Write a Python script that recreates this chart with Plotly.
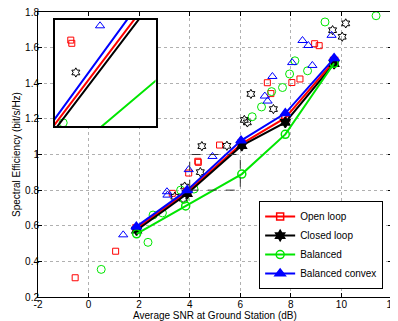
import plotly.graph_objects as go

# ---------------- data ----------------
series_names = ["Open loop", "Closed loop", "Balanced", "Balanced convex"]

# averaged curves (vertices)
open_x = [1.90, 3.90, 6.05, 7.78, 9.71]
open_y = [0.585, 0.790, 1.060, 1.205, 1.525]
closed_x = [1.90, 3.90, 6.06, 7.78, 9.71]
closed_y = [0.575, 0.780, 1.050, 1.180, 1.510]
bal_x = [1.90, 3.84, 6.06, 7.78, 9.71]
bal_y = [0.555, 0.711, 0.890, 1.113, 1.512]
cvx_x = [1.89, 3.90, 6.03, 7.78, 9.71]
cvx_y = [0.595, 0.800, 1.078, 1.231, 1.540]

# individual realisations (scatter)
open_sx = [-0.53, 1.07, 3.31, 3.96, 4.32, 4.34, 5.18, 7.07, 7.21, 8.04, 8.36, 8.94, 9.12]
open_sy = [0.308, 0.457, 0.782, 0.896, 0.962, 0.956, 1.053, 1.403, 1.342, 1.404, 1.424, 1.622, 1.611]
closed_sx = [3.41, 3.74, 3.80, 4.42, 4.48, 5.47, 6.16, 6.28, 6.42, 7.31, 9.65, 10.03, 10.17]
closed_sy = [0.763, 0.752, 0.820, 0.901, 1.047, 1.049, 1.194, 1.180, 1.340, 1.255, 1.698, 1.661, 1.736]
bal_sx = [0.50, 2.35, 2.55, 2.92, 3.64, 3.78, 4.17, 6.47, 6.84, 7.24, 7.67, 7.95, 8.16, 8.66, 9.35, 11.37]
bal_sy = [0.355, 0.507, 0.660, 0.672, 0.800, 0.748, 0.806, 1.212, 1.267, 1.353, 1.376, 1.452, 1.526, 1.470, 1.744, 1.779]
cvx_sx = [1.37, 3.10, 3.12, 3.96, 4.90, 6.97, 7.08, 7.27, 8.05, 8.46, 8.69, 8.85, 9.61]
cvx_sy = [0.549, 0.791, 0.772, 0.915, 0.989, 1.328, 1.300, 1.438, 1.516, 1.640, 1.612, 1.500, 1.669]

# axes
x_range = [-2, 12]
y_range = [0.2, 1.8]
x_ticks = [-2, 0, 2, 4, 6, 8, 10, 12]
x_ticklabels = ["-2", "0", "2", "4", "6", "8", "10", "12"]
y_ticks = [0.2, 0.4, 0.6, 0.8, 1.0, 1.2, 1.4, 1.6, 1.8]
y_ticklabels = ["0.2", "0.4", "0.6", "0.8", "1", "1.2", "1.4", "1.6", "1.8"]
x_title = "Average SNR at Ground Station (dB)"
y_title = "Spectral Efficiency (bit/s/Hz)"

# zoomed region shown in the inset
zoom_x = [4, 6]
zoom_y = [0.8, 1.0]

# ---------------- styles ----------------
colors = ["#ff0000", "#000000", "#00e600", "#0000ff"]
line_sym = ["square-open", "hexagram", "circle-open", "triangle-up"]
scat_sym = ["square-open", "hexagram-open", "circle-open", "triangle-up-open"]
line_msize = [7, 8, 8, 9]
scat_msize = [6, 7, 8, 8]

curves = [(open_x, open_y), (closed_x, closed_y), (bal_x, bal_y), (cvx_x, cvx_y)]
scatters = [(open_sx, open_sy), (closed_sx, closed_sy), (bal_sx, bal_sy), (cvx_sx, cvx_sy)]


def inside_zoom(xs, ys):
    pts = [(a, b) for a, b in zip(xs, ys)
           if zoom_x[0] <= a <= zoom_x[1] and zoom_y[0] <= b <= zoom_y[1]]
    return [p[0] for p in pts], [p[1] for p in pts]


fig = go.Figure()
FONT = "Liberation Sans, Arial, Helvetica, sans-serif"

for axes in [("x", "y"), ("x2", "y2")]:
    for i in range(4):
        sx, sy = scatters[i]
        if axes[0] == "x2":
            sx, sy = inside_zoom(sx, sy)
        fig.add_trace(go.Scatter(
            x=sx, y=sy, mode="markers", showlegend=False, hoverinfo="skip",
            xaxis=axes[0], yaxis=axes[1],
            marker=dict(symbol=scat_sym[i], size=scat_msize[i], color=colors[i],
                        line=dict(color=colors[i], width=1)),
        ))
    for i in range(4):
        cx, cy = curves[i]
        fig.add_trace(go.Scatter(
            x=cx, y=cy, mode="lines+markers" if axes[0] == "x" else "lines",
            name=series_names[i],
            showlegend=(axes[0] == "x"), xaxis=axes[0], yaxis=axes[1],
            line=dict(color=colors[i], width=2),
            marker=dict(symbol=line_sym[i], size=line_msize[i], color=colors[i],
                        line=dict(color=colors[i], width=1.5)),
        ))

# dashed rectangle marking the zoomed area
fig.add_shape(type="rect", xref="x", yref="y",
              x0=zoom_x[0], x1=zoom_x[1], y0=zoom_y[0], y1=zoom_y[1],
              line=dict(color="#333333", width=1, dash="dash"), layer="above")

# x axis title (placed explicitly just under the tick labels)
fig.add_annotation(text=x_title, xref="paper", yref="paper", x=0.5, y=-0.066,
                   xanchor="center", yanchor="middle", showarrow=False,
                   font=dict(size=10, family=FONT, color="black"))

axis_common = dict(showline=True, linecolor="black", linewidth=1, mirror="allticks",
                   ticks="inside", ticklen=4, tickcolor="black", zeroline=False,
                   showgrid=True, gridcolor="#b0b0b0", griddash="dot", gridwidth=1,
                   automargin=False, ticklabeloverflow="allow",
                   tickfont=dict(size=10, color="black", family=FONT))

# page body has an 8px margin -> figure is 8px smaller and shifted
fig.update_layout(
    width=390, height=313,
    margin=dict(l=30, r=6, t=4, b=24, autoexpand=False),
    paper_bgcolor="white", plot_bgcolor="white",
    font=dict(family=FONT, size=10, color="black"),
    xaxis=dict(range=x_range, tickvals=x_ticks, ticktext=x_ticklabels,
               ticklabelstandoff=-2, **axis_common),
    yaxis=dict(range=y_range, tickvals=y_ticks, ticktext=y_ticklabels,
               ticklabelstandoff=-4,
               title=dict(text=y_title, standoff=2, font=dict(size=10)),
               **axis_common),
    xaxis2=dict(domain=[0.047, 0.332], range=zoom_x, anchor="y2",
                showline=True, linecolor="black", linewidth=2, mirror=True,
                showticklabels=False, ticks="", showgrid=False, zeroline=False),
    yaxis2=dict(domain=[0.60, 0.972], range=zoom_y, anchor="x2",
                showline=True, linecolor="black", linewidth=2, mirror=True,
                showticklabels=False, ticks="", showgrid=False, zeroline=False),
    legend=dict(x=0.975, y=0.028, xanchor="right", yanchor="bottom",
                bgcolor="white", bordercolor="black", borderwidth=1,
                font=dict(size=10, family=FONT), itemwidth=30,
                tracegroupgap=0),
)

fig.write_html("out.html")
